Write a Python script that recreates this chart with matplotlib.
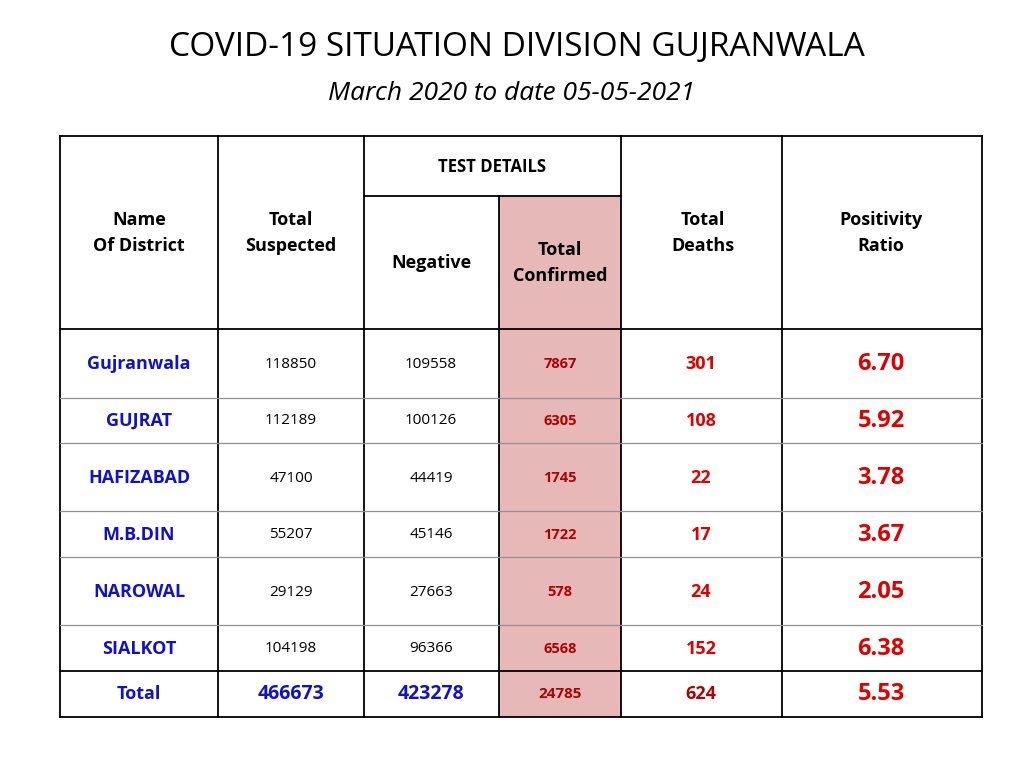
import matplotlib
matplotlib.use("Agg")
import matplotlib.pyplot as plt
from matplotlib.patches import Rectangle

districts = ["Gujranwala", "GUJRAT", "HAFIZABAD", "M.B.DIN", "NAROWAL", "SIALKOT", "Total"]
suspected = [118850, 112189, 47100, 55207, 29129, 104198, 466673]
negative = [109558, 100126, 44419, 45146, 27663, 96366, 423278]
confirmed = [7867, 6305, 1745, 1722, 578, 6568, 24785]
deaths = [301, 108, 22, 17, 24, 152, 624]
positivity = ["6.70", "5.92", "3.78", "3.67", "2.05", "6.38", "5.53"]

FONT = "Open Sans"
BLUE = "#1010D0"
RED = "#E00000"
DRED = "#B00000"

fig = plt.figure(figsize=(10.24, 7.68), dpi=100)
ax = fig.add_axes([0, 0, 1, 1])
ax.set_xlim(0, 1024)
ax.set_ylim(768, 0)
ax.axis("off")

xs = [60, 218, 364, 499, 621, 782, 982]
rows = [329, 398, 443, 511, 557, 625, 671, 717]
top, sub = 136, 196

ax.add_patch(Rectangle((499, sub), 122, rows[-1] - sub, facecolor="#E6B9B8", edgecolor="none"))

lk = dict(color="black", lw=1.3)
# verticals
for x in xs:
    if x == 499:
        ax.plot([x, x], [sub, rows[-1]], **lk)
    else:
        ax.plot([x, x], [top, rows[-1]], **lk)
ax.plot([60, 982], [top, top], **lk)
ax.plot([364, 621], [sub, sub], **lk)
for i, y in enumerate(rows):
    if y in (329, 671, 717):
        ax.plot([60, 982], [y, y], **lk)
    else:
        ax.plot([60, 982], [y, y], color="#909090", lw=0.9)

ax.text(517, 48, "COVID-19 SITUATION DIVISION GUJRANWALA", ha="center", va="center",
        fontsize=24, family=FONT)
ax.text(512, 93, "March 2020 to date 05-05-2021", ha="center", va="center",
        fontsize=19, family=FONT, style="italic")

hk = dict(ha="center", va="center", fontsize=13, family=FONT, fontweight="bold", linespacing=1.6)
ax.text(139, 233, "Name\nOf District", **hk)
ax.text(291, 233, "Total\nSuspected", **hk)
ax.text(492, 167, "TEST DETAILS", fontsize=12, ha="center", va="center", family=FONT, fontweight="bold")
ax.text(431, 263, "Negative", **hk)
ax.text(560, 263, "Total\nConfirmed", **hk)
ax.text(703, 233, "Total\nDeaths", **hk)
ax.text(881, 233, "Positivity\nRatio", **hk)

ys = [364, 421, 478, 535, 592, 649, 694]
for i, y in enumerate(ys):
    last = i == len(ys) - 1
    ax.text(139, y, districts[i], ha="center", va="center", fontsize=13, family=FONT,
            fontweight="bold", color=BLUE)
    if last:
        ax.text(291, y, str(suspected[i]), ha="center", va="center", fontsize=14, family=FONT, fontweight="bold", color=BLUE)
        ax.text(431, y, str(negative[i]), ha="center", va="center", fontsize=14, family=FONT, fontweight="bold", color=BLUE)
        ax.text(560, y, str(confirmed[i]), ha="center", va="center", fontsize=11, family=FONT, fontweight="bold", color=DRED)
        ax.text(701, y, str(deaths[i]), ha="center", va="center", fontsize=13, family=FONT, fontweight="bold", color=DRED)
    else:
        ax.text(291, y, str(suspected[i]), ha="center", va="center", fontsize=11, family=FONT)
        ax.text(431, y, str(negative[i]), ha="center", va="center", fontsize=11, family=FONT)
        ax.text(560, y, str(confirmed[i]), ha="center", va="center", fontsize=10.5, family=FONT, fontweight="bold", color=DRED)
        ax.text(701, y, str(deaths[i]), ha="center", va="center", fontsize=13, family=FONT, fontweight="bold", color=RED)
    ax.text(881, y, positivity[i], ha="center", va="center", fontsize=17, family=FONT,
            fontweight="bold", color=RED)

fig.savefig("out.png", dpi=100)
